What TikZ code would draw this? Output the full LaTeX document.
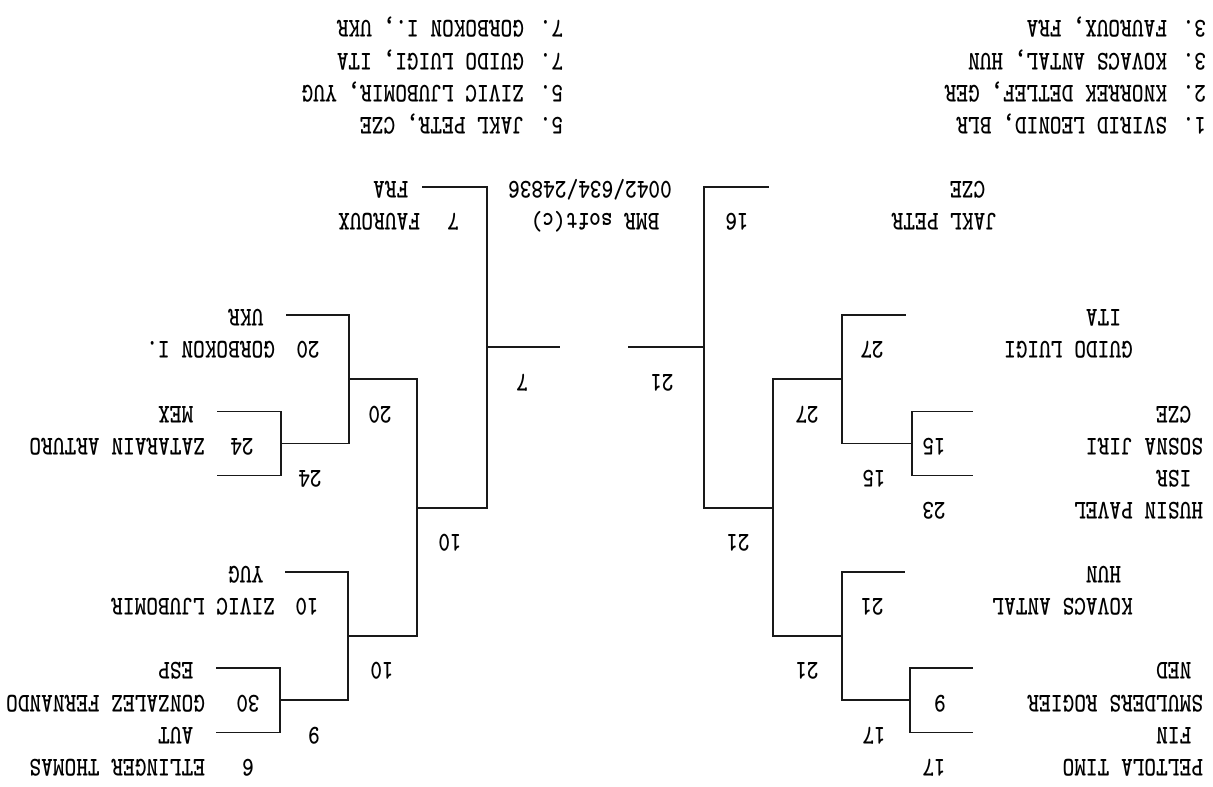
\documentclass[tikz,border=0pt]{standalone}
\newcommand\brkfont{\fontsize{27}{31}\selectfont\ttfamily\bfseries}
\tikzset{
  txt/.style={font=\brkfont, inner sep=0pt, outer sep=0pt, rotate=180, xscale=0.8254, text height=16.5pt, text depth=0pt},
  nm/.style={txt, anchor=west},
  num/.style={txt, anchor=center},
  ln/.style={line width=1.7pt, black!90, line cap=rect}
}
\begin{document}
\begin{tikzpicture}[x=1pt,y=-1pt]
\useasboundingbox (0,0) rectangle (1213,787);
% ---------- right half (ref) ----------
\coordinate (a1) at (972,732.4); \coordinate (a2) at (910,732.4);
\coordinate (a3) at (910,668.2); \coordinate (a4) at (972,668.2);
\coordinate (a5) at (910,700.3); \coordinate (a6) at (842,700.3);
\coordinate (b1) at (904,571.9); \coordinate (b2) at (842,571.9);
\coordinate (b3) at (842,636.1); \coordinate (b4) at (773,636.1);
\coordinate (c1) at (972,475.6); \coordinate (c2) at (912,475.6);
\coordinate (c3) at (912,411.4); \coordinate (c4) at (972,411.4);
\coordinate (c5) at (912,443.5); \coordinate (c6) at (842,443.5);
\coordinate (d1) at (905,315.1); \coordinate (d2) at (842,315.1);
\coordinate (d3) at (842,379.3); \coordinate (d4) at (773,379.3);
\coordinate (e1) at (773,507.7); \coordinate (e2) at (704,507.7);
\coordinate (f1) at (768,186.7); \coordinate (f2) at (704,186.7);
\coordinate (f3) at (704,347.2); \coordinate (f4) at (629,347.2);
\draw[ln] (a1) -- (a2) -- (a3) -- (a4);
\draw[ln] (a5) -- (a6);
\draw[ln] (b1) -- (b2) -- (a6);
\draw[ln] (b3) -- (b4);
\draw[ln] (c1) -- (c2) -- (c3) -- (c4);
\draw[ln] (c5) -- (c6);
\draw[ln] (d1) -- (d2) -- (c6);
\draw[ln] (d3) -- (d4);
\draw[ln] (d4) -- (b4);
\draw[ln] (e1) -- (e2);
\draw[ln] (f1) -- (f2) -- (e2);
\draw[ln] (f3) -- (f4);
% ---------- left half (ref) ----------
\coordinate (g1) at (217,732.4); \coordinate (g2) at (280,732.4);
\coordinate (g3) at (280,668.2); \coordinate (g4) at (217,668.2);
\coordinate (g5) at (280,700.3); \coordinate (g6) at (348,700.3);
\coordinate (h1) at (286,571.9); \coordinate (h2) at (348,571.9);
\coordinate (h3) at (348,636.1); \coordinate (h4) at (417,636.1);
\coordinate (i1) at (218,475.6); \coordinate (i2) at (281,475.6);
\coordinate (i3) at (281,411.4); \coordinate (i4) at (218,411.4);
\coordinate (i5) at (281,443.5); \coordinate (i6) at (349,443.5);
\coordinate (k1) at (287,315.1); \coordinate (k2) at (349,315.1);
\coordinate (k3) at (349,379.3); \coordinate (k4) at (417,379.3);
\coordinate (m1) at (417,507.7); \coordinate (m2) at (487,507.7);
\coordinate (n1) at (423,186.7); \coordinate (n2) at (487,186.7);
\coordinate (n3) at (487,347.2); \coordinate (n4) at (559,347.2);
\draw[ln] (g1) -- (g2) -- (g3) -- (g4);
\draw[ln] (g5) -- (g6);
\draw[ln] (h1) -- (h2) -- (g6);
\draw[ln] (h3) -- (h4);
\draw[ln] (i1) -- (i2) -- (i3) -- (i4);
\draw[ln] (i5) -- (i6);
\draw[ln] (k1) -- (k2) -- (i6);
\draw[ln] (k3) -- (k4);
\draw[ln] (k4) -- (h4);
\draw[ln] (m1) -- (m2);
\draw[ln] (n1) -- (n2) -- (m2);
\draw[ln] (n3) -- (n4);
% ---------- right half texts ----------
\node[nm] (t1) at (1203,767.5) {PELTOLA TIMO};
\node[nm] (t2) at (1191.3,735.4) {FIN};
\node[nm] (t3) at (1203,703.3) {SMULDERS ROGIER};
\node[nm] (t4) at (1191.3,671.2) {NED};
\node[nm] (t5) at (1132.8,607) {KOVACS ANTAL};
\node[nm] (t6) at (1121.1,574.9) {HUN};
\node[nm] (t7) at (1203,510.7) {HUSIN PAVEL};
\node[nm] (t8) at (1191.3,478.6) {ISR};
\node[nm] (t9) at (1203,446.5) {SOSNA JIRI};
\node[nm] (t10) at (1191.3,414.4) {CZE};
\node[nm] (t11) at (1132.8,350.2) {GUIDO LUIGI};
\node[nm] (t12) at (1121.1,318.1) {ITA};
\node[nm] (t13) at (997,221.8) {JAKL PETR};
\node[nm] (t14) at (985.3,189.7) {CZE};
\node[num] (s1) at (934,767.5) {17};
\node[num] (s2) at (940,703.3) {9};
\node[num] (s3) at (934,510.7) {23};
\node[num] (s4) at (934,446.5) {15};
\node[num] (s5) at (872,607) {21};
\node[num] (s6) at (872,350.2) {27};
\node[num] (s7) at (737,221.8) {16};
\node[num] (w1) at (874,735.4) {17};
\node[num] (w2) at (874,478.6) {15};
\node[num] (w3) at (807,671.2) {21};
\node[num] (w4) at (807,414.4) {27};
\node[num] (w5) at (738,543) {21};
\node[num] (w6) at (662,382.3) {21};
% ---------- left half texts ----------
\node[nm] (u1) at (205,767.5) {ETLINGER THOMAS};
\node[nm] (u2) at (193.3,735.4) {AUT};
\node[nm] (u3) at (205,703.3) {GONZALEZ FERNANDO};
\node[nm] (u4) at (193.3,671.2) {ESP};
\node[nm] (u5) at (275,607) {ZIVIC LJUBOMIR};
\node[nm] (u6) at (263.3,574.9) {YUG};
\node[nm] (u7) at (205,446.5) {ZATARAIN ARTURO};
\node[nm] (u8) at (193.3,414.4) {MEX};
\node[nm] (u9) at (275,350.2) {GORBOKON I.};
\node[nm] (u10) at (263.3,318.1) {UKR};
\node[nm] (u11) at (420,221.8) {FAUROUX};
\node[nm] (u12) at (408.3,189.7) {FRA};
\node[num] (v1) at (248,767.5) {6};
\node[num] (v2) at (248,703.3) {30};
\node[num] (v3) at (242,446.5) {24};
\node[num] (v4) at (307,607) {10};
\node[num] (v5) at (308,350.2) {20};
\node[num] (v6) at (453,221.8) {7};
\node[num] (x1) at (314,735.4) {9};
\node[num] (x2) at (310,478.6) {24};
\node[num] (x3) at (382,671.2) {10};
\node[num] (x4) at (380,414.4) {20};
\node[num] (x5) at (450,543) {10};
\node[num] (x6) at (522,382.3) {7};
% ---------- centre ----------
\node[num] (bmr) at (595,221.8) {BMR soft(c)};
\node[num] (ser) at (590,189.7) {0042/634/24836};
% ---------- legends ----------
\node[nm] (l1) at (1206,125.5) {1. SVIRID LEONID, BLR};
\node[nm] (l2) at (1206,93.4) {2. KNORREK DETLEF, GER};
\node[nm] (l3) at (1206,61.3) {3. KOVACS ANTAL, HUN};
\node[nm] (l4) at (1206,29.2) {3. FAUROUX, FRA};
\node[nm] (l5) at (563,125.5) {5. JAKL PETR, CZE};
\node[nm] (l6) at (563,93.4) {5. ZIVIC LJUBOMIR, YUG};
\node[nm] (l7) at (563,61.3) {7. GUIDO LUIGI, ITA};
\node[nm] (l8) at (563,29.2) {7. GORBOKON I., UKR};
\end{tikzpicture}
\end{document}
